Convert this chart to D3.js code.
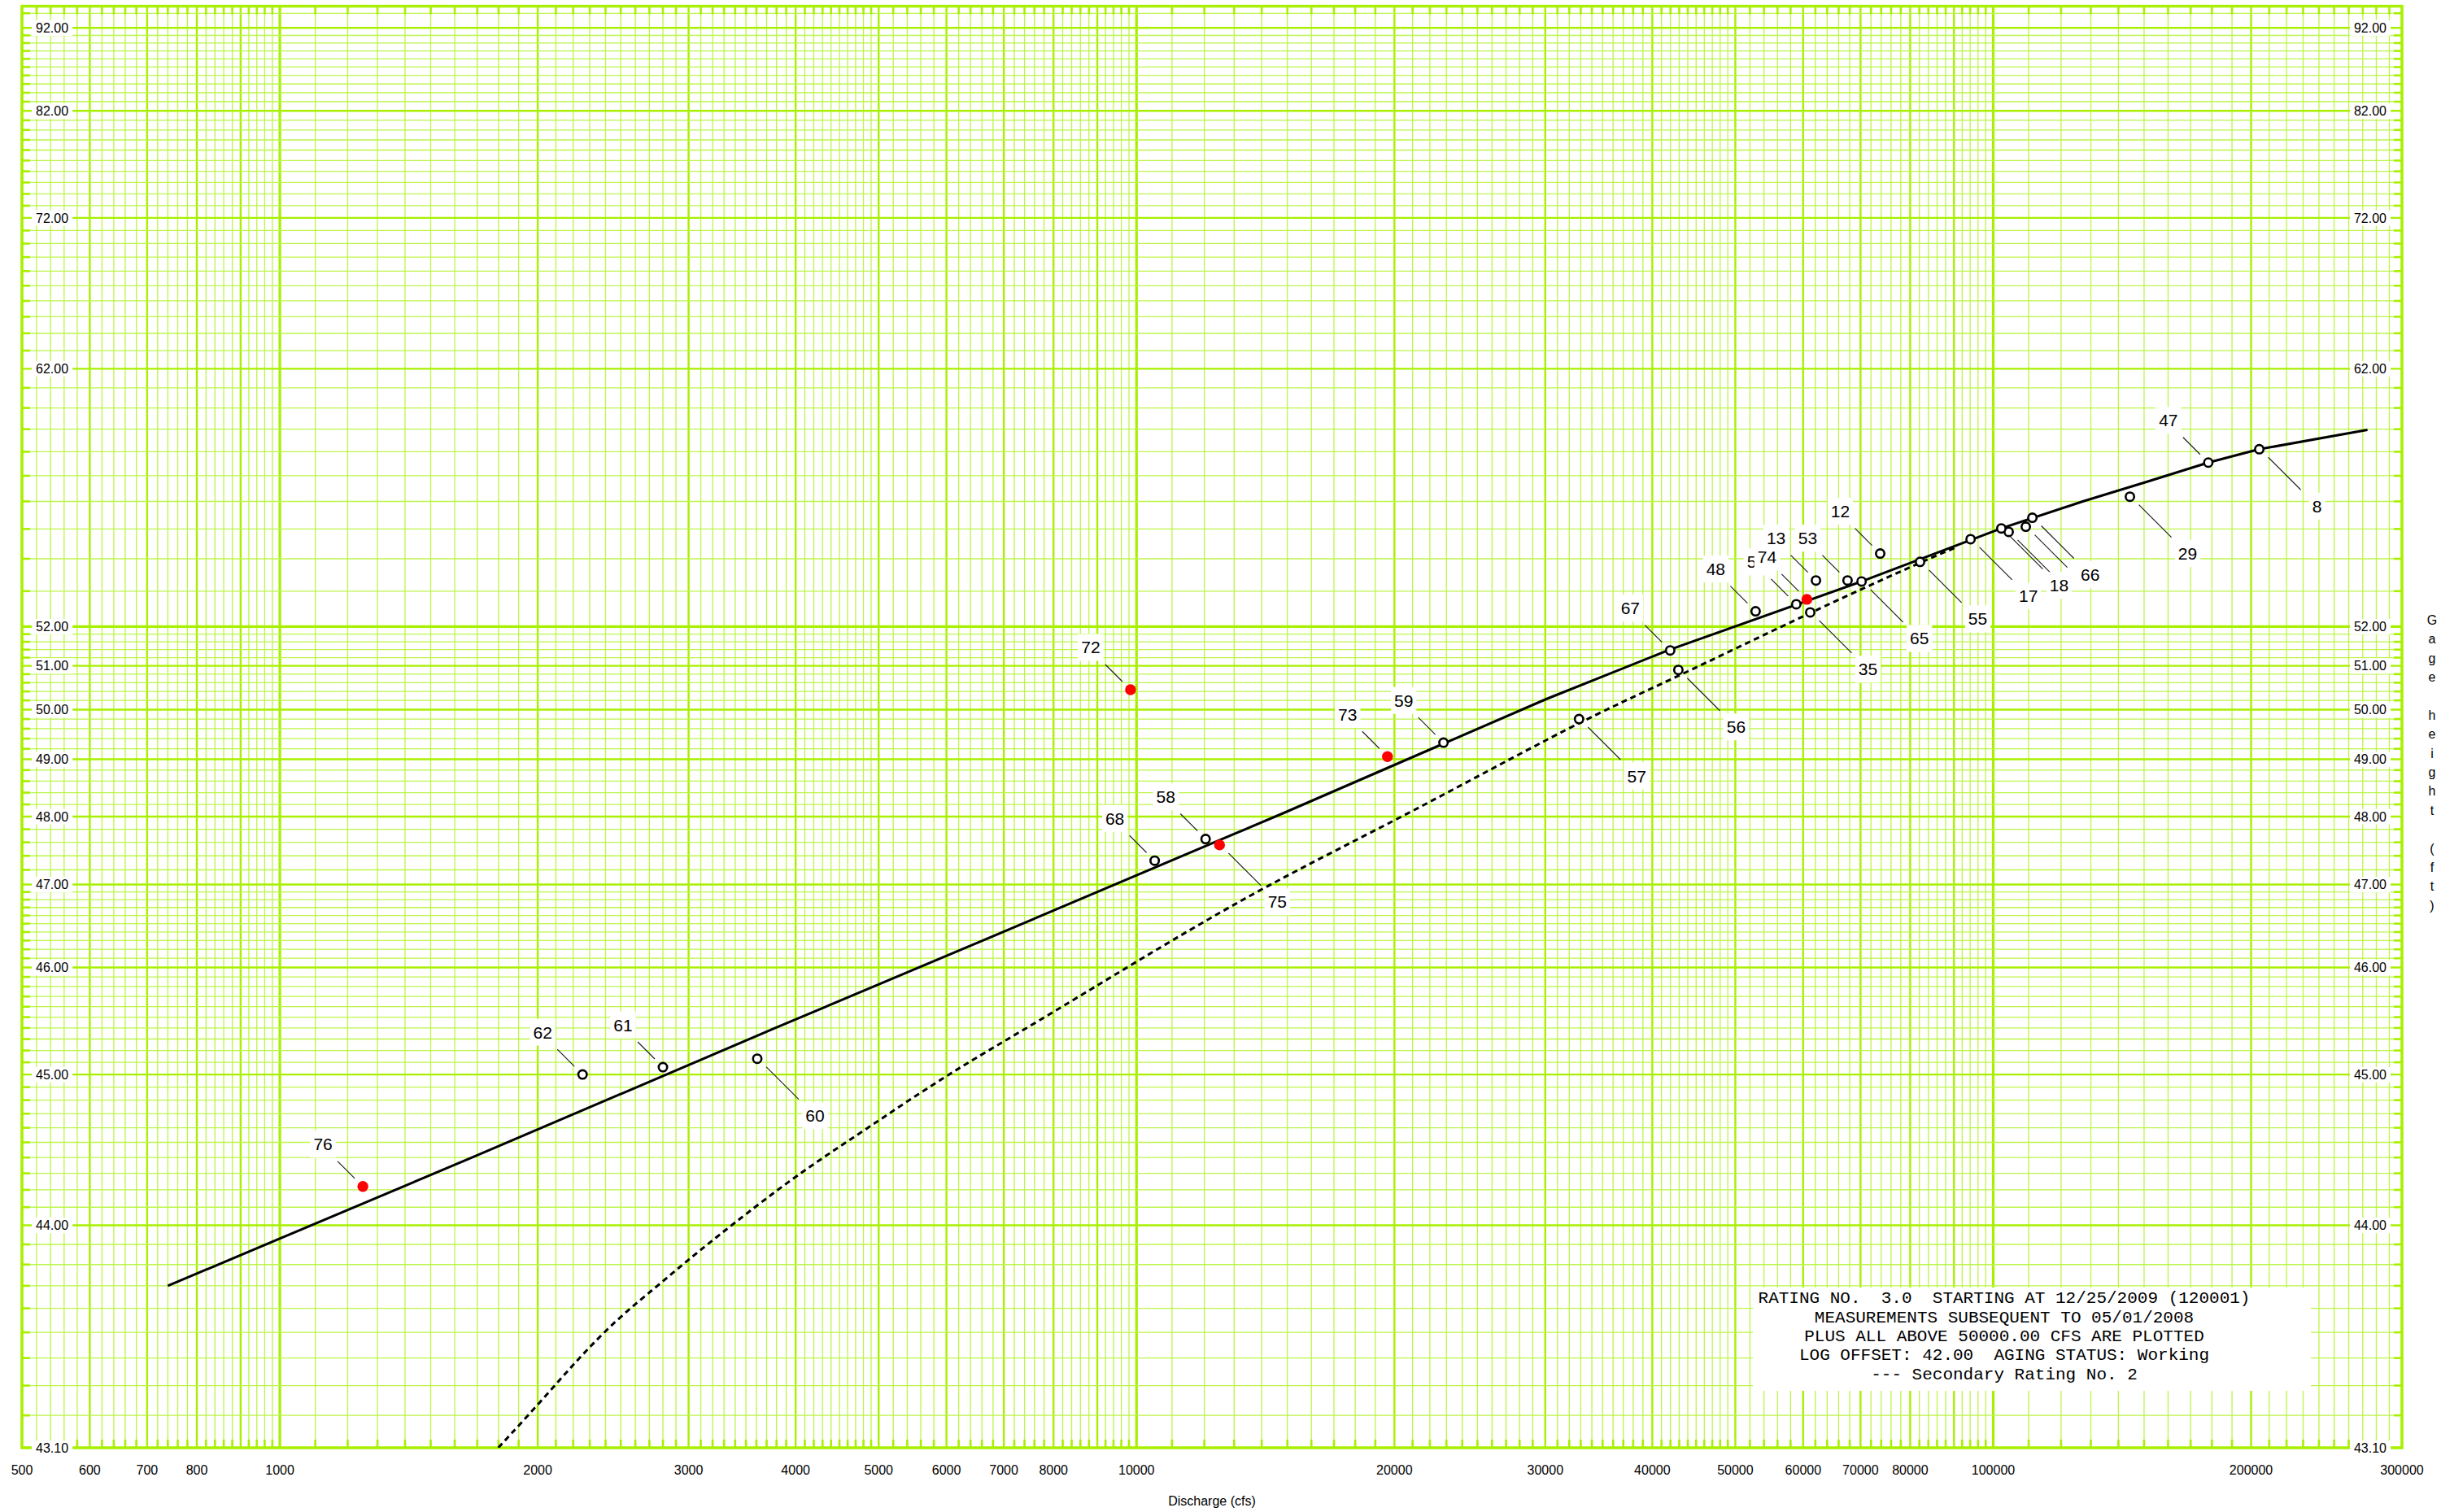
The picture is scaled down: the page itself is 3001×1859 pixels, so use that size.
<!DOCTYPE html>
<html lang="en">
<head>
<meta charset="utf-8">
<style>
  body { margin: 0; background: #fff; }
  text { font-family: "Liberation Sans", Arial, sans-serif; fill: #000; }
  .mono { font-family: "Liberation Mono", "Courier New", monospace; white-space: pre; }
</style>
<script src="https://d3js.org/d3.v7.min.js"></script>
</head>
<body>
<svg width="3001" height="1859"></svg>
<script>
// gage height is plotted as log(GH - offset)
var logOffset = 42.0;

var xTickValues = [500, 600, 700, 800, 1000, 2000, 3000, 4000, 5000, 6000, 7000, 8000,
                   10000, 20000, 30000, 40000, 50000, 60000, 70000, 80000, 100000, 200000, 300000];
var yTickValues = [92, 82, 72, 62, 52, 51, 50, 49, 48, 47, 46, 45, 44, 43.1];

// measurements (label, discharge, gage height, red = newest, label side)
var measLabel = ["76", "62", "61", "60", "68", "58", "75", "72", "73", "59", "57", "67", "56", "48", "54",
                 "74", "35", "13", "53", "65", "12", "55", "17", "", "18", "", "66", "29", "47", "8"];
var measQ = [1250, 2256, 2800, 3608, 10500, 12040, 12500, 9840, 19630, 22820, 32850, 41970, 42900, 52800, 58900,
             60600, 61150, 62100, 67600, 70200, 73800, 82150, 94100, 104250, 102200, 109150, 111100, 144400, 178250, 204450];
var measGH = [44.22, 45.00, 45.06, 45.13, 47.33, 47.65, 47.56, 50.44, 49.05, 49.32, 49.80, 51.38, 50.90, 52.42, 52.62,
              52.76, 52.39, 53.32, 53.32, 53.29, 54.17, 53.90, 54.65, 54.90, 55.02, 55.08, 55.40, 56.18, 57.54, 58.11];
var measRed = [1, 0, 0, 0, 0, 0, 1, 1, 1, 0, 0, 0, 0, 0, 0,
               1, 0, 0, 0, 0, 0, 0, 0, 0, 0, 0, 0, 0, 0, 0];
var measSide = ["UL", "UL", "UL", "LR", "UL", "UL", "LR", "UL", "UL", "UL", "LR", "UL", "LR", "UL", "UL",
                "UL", "LR", "UL", "UL", "LR", "UL", "LR", "LR", "LR", "LR", "LR", "LR", "LR", "UL", "LR"];

// rating 3.0 (solid)
var ratingQ = [740, 1676, 3762, 6832, 14800, 30080, 41700, 70200, 102200, 127200, 150450, 178250, 204450, 273450];
var ratingGH = [43.70, 44.40, 45.39, 46.36, 48.05, 50.23, 51.38, 53.29, 55.02, 56.00, 56.74, 57.54, 58.11, 58.97];

// secondary rating no. 2 (dashed)
var secondQ = [1799, 2009, 2219, 2466, 2741, 3010, 3344, 4009, 4807, 6006, 7681, 10056, 14095, 20841,
               32850, 41700, 61150, 82150, 90060];
var secondGH = [43.10, 43.24, 43.39, 43.55, 43.69, 43.83, 43.99, 44.29, 44.58, 45.00, 45.46, 46.08, 46.98, 48.05,
                49.75, 50.63, 52.39, 53.88, 54.35];

var legendLines = [
  "RATING NO.  3.0  STARTING AT 12/25/2009 (120001)",
  "MEASUREMENTS SUBSEQUENT TO 05/01/2008",
  "PLUS ALL ABOVE 50000.00 CFS ARE PLOTTED",
  "LOG OFFSET: 42.00  AGING STATUS: Working",
  "--- Secondary Rating No. 2"
];

var svg = d3.select("svg");
svg.append("rect").attr("width", 3001).attr("height", 1859).attr("fill", "#fff");

var plot = {left: 27, right: 2953, top: 7.6, bottom: 1780};
var x = d3.scaleLog().domain([500, 300000]).range([plot.left, plot.right]);
var yOff = d3.scaleLog().domain([43.1 - logOffset, 95 - logOffset]).range([plot.bottom, plot.top]);
function y(gh) { return yOff(gh - logOffset); }

// log paper: tenths below mantissa 5, fifths above
function logGrid(lo, hi) {
  var out = [];
  for (var d = Math.pow(10, Math.floor(Math.log10(lo))); d <= hi; d *= 10) {
    for (var k = 10; k < 100; k++) {
      if (k >= 50 && k % 2) continue;
      var v = k / 10 * d;
      if (v < lo * 0.9999 || v > hi * 1.0001) continue;
      out.push({v: v, level: k === 10 ? 2 : (k % 10 === 0 ? 1 : 0)});
    }
  }
  return out.sort(function(a, b) { return a.level - b.level; });
}
var xGrid = logGrid(500, 300000);
var yGrid = logGrid(43.1 - logOffset, 95 - logOffset);

var gridColor = ["#bcf548", "#a8f000", "#a8f000"],
    gridWidth = [1.3, 2.4, 3.2];

var grid = svg.append("g");
grid.selectAll(".vx").data(xGrid).enter().append("line")
    .attr("x1", function(d) { return x(d.v); }).attr("x2", function(d) { return x(d.v); })
    .attr("y1", plot.top).attr("y2", plot.bottom)
    .attr("stroke", function(d) { return gridColor[d.level]; })
    .attr("stroke-width", function(d) { return gridWidth[d.level]; });
grid.selectAll(".hy").data(yGrid).enter().append("line")
    .attr("y1", function(d) { return yOff(d.v); }).attr("y2", function(d) { return yOff(d.v); })
    .attr("x1", plot.left).attr("x2", plot.right)
    .attr("stroke", function(d) { return gridColor[d.level]; })
    .attr("stroke-width", function(d) { return gridWidth[d.level]; });

// tick stubs on all four sides
var minorX = xGrid.filter(function(d) { return d.level === 0; }),
    minorY = yGrid.filter(function(d) { return d.level === 0; });
[[plot.bottom, plot.bottom - 10], [plot.top, plot.top + 10]].forEach(function(s) {
  grid.selectAll(null).data(minorX).enter().append("line")
      .attr("x1", function(d) { return x(d.v); }).attr("x2", function(d) { return x(d.v); })
      .attr("y1", s[0]).attr("y2", s[1])
      .attr("stroke", "#a8f000").attr("stroke-width", 2.6);
});
[[plot.left, plot.left + 10], [plot.right, plot.right - 10]].forEach(function(s) {
  grid.selectAll(null).data(minorY).enter().append("line")
      .attr("y1", function(d) { return yOff(d.v); }).attr("y2", function(d) { return yOff(d.v); })
      .attr("x1", s[0]).attr("x2", s[1])
      .attr("stroke", "#a8f000").attr("stroke-width", 2.6);
});

grid.append("rect")
    .attr("x", plot.left).attr("y", plot.top)
    .attr("width", plot.right - plot.left).attr("height", plot.bottom - plot.top)
    .attr("fill", "none").attr("stroke", "#a8f000").attr("stroke-width", 3.5);

function boxedText(parent, tx, ty, str, anchor, size, padX, padY) {
  var g = parent.append("g");
  var r = g.append("rect").attr("fill", "#fff");
  var t = g.append("text").attr("x", tx).attr("y", ty).attr("dy", "0.358em")
      .attr("text-anchor", anchor).style("font-size", size + "px").text(str);
  var b = t.node().getBBox();
  r.attr("x", b.x - padX).attr("y", b.y - padY)
   .attr("width", b.width + 2 * padX).attr("height", b.height + 2 * padY);
  return g;
}

// gage height labels on both sides
var yLab = svg.append("g");
yTickValues.forEach(function(v) {
  boxedText(yLab, 44, y(v), v.toFixed(2), "start", 16, 5, 1);
  boxedText(yLab, 2934, y(v), v.toFixed(2), "end", 16, 5, 1);
});

// discharge labels
svg.append("g").selectAll("text").data(xTickValues).enter().append("text")
    .attr("x", function(d) { return x(d); }).attr("y", 1807).attr("dy", "0.358em")
    .attr("text-anchor", "middle").style("font-size", "16px")
    .text(function(d) { return d; });

svg.append("text").attr("x", (plot.left + plot.right) / 2).attr("y", 1845).attr("dy", "0.358em")
    .attr("text-anchor", "middle").style("font-size", "16px").text("Discharge (cfs)");

svg.append("g").selectAll("text").data("Gage height (ft)".split("")).enter().append("text")
    .attr("x", 2990).attr("y", function(d, i) { return 762 + i * 23.4; }).attr("dy", "0.358em")
    .attr("text-anchor", "middle").style("font-size", "16px")
    .text(function(d) { return d; });

// legend box
var leg = svg.append("g");
leg.append("rect").attr("x", 2155).attr("y", 1583).attr("width", 686).attr("height", 127).attr("fill", "#fff");
leg.selectAll("text").data(legendLines).enter().append("text")
    .attr("class", "mono")
    .attr("x", 2464).attr("y", function(d, i) { return 1595 + i * 23.3; }).attr("dy", "0.35em")
    .attr("text-anchor", "middle").style("font-size", "21px")
    .text(function(d) { return d; });

// rating curves
svg.append("clipPath").attr("id", "plotClip").append("rect")
    .attr("x", plot.left).attr("y", plot.top)
    .attr("width", plot.right - plot.left).attr("height", plot.bottom - plot.top);

var line = d3.line()
    .x(function(d) { return x(d[0]); })
    .y(function(d) { return y(d[1]); });

svg.append("path")
    .datum(d3.zip(secondQ, secondGH))
    .attr("clip-path", "url(#plotClip)")
    .attr("d", line.curve(d3.curveBasis))
    .attr("fill", "none").attr("stroke", "#000").attr("stroke-width", 3)
    .attr("stroke-dasharray", "7,5");

svg.append("path")
    .datum(d3.zip(ratingQ, ratingGH))
    .attr("clip-path", "url(#plotClip)")
    .attr("d", line.curve(d3.curveLinear))
    .attr("fill", "none").attr("stroke", "#000").attr("stroke-width", 3);

// measurements: leaders, labels, markers
var meas = measLabel.map(function(l, i) {
  return {label: l, px: x(measQ[i]), py: y(measGH[i]), red: measRed[i], side: measSide[i]};
});

var leaders = svg.append("g");
meas.forEach(function(m) {
  var s = m.side === "UL" ? [-10, -10, -31, -31] : [11, 10, 51, 50];
  leaders.append("line")
      .attr("x1", m.px + s[0]).attr("y1", m.py + s[1])
      .attr("x2", m.px + s[2]).attr("y2", m.py + s[3])
      .attr("stroke", "#222").attr("stroke-width", 1.2);
});

var labels = svg.append("g");
meas.forEach(function(m) {
  if (!m.label) return;
  var lx = m.side === "UL" ? m.px - 49 : m.px + 71,
      ly = m.side === "UL" ? m.py - 52 : m.py + 70;
  boxedText(labels, lx, ly, m.label, "middle", 21, 4, 5);
});

svg.append("g").selectAll("circle").data(meas).enter().append("circle")
    .attr("cx", function(d) { return d.px; })
    .attr("cy", function(d) { return d.py; })
    .attr("r", function(d) { return d.red ? 6.7 : 5.2; })
    .attr("fill", function(d) { return d.red ? "#ff0000" : "#fff"; })
    .attr("stroke", function(d) { return d.red ? "none" : "#000"; })
    .attr("stroke-width", 2.6);
</script>
</body>
</html>
